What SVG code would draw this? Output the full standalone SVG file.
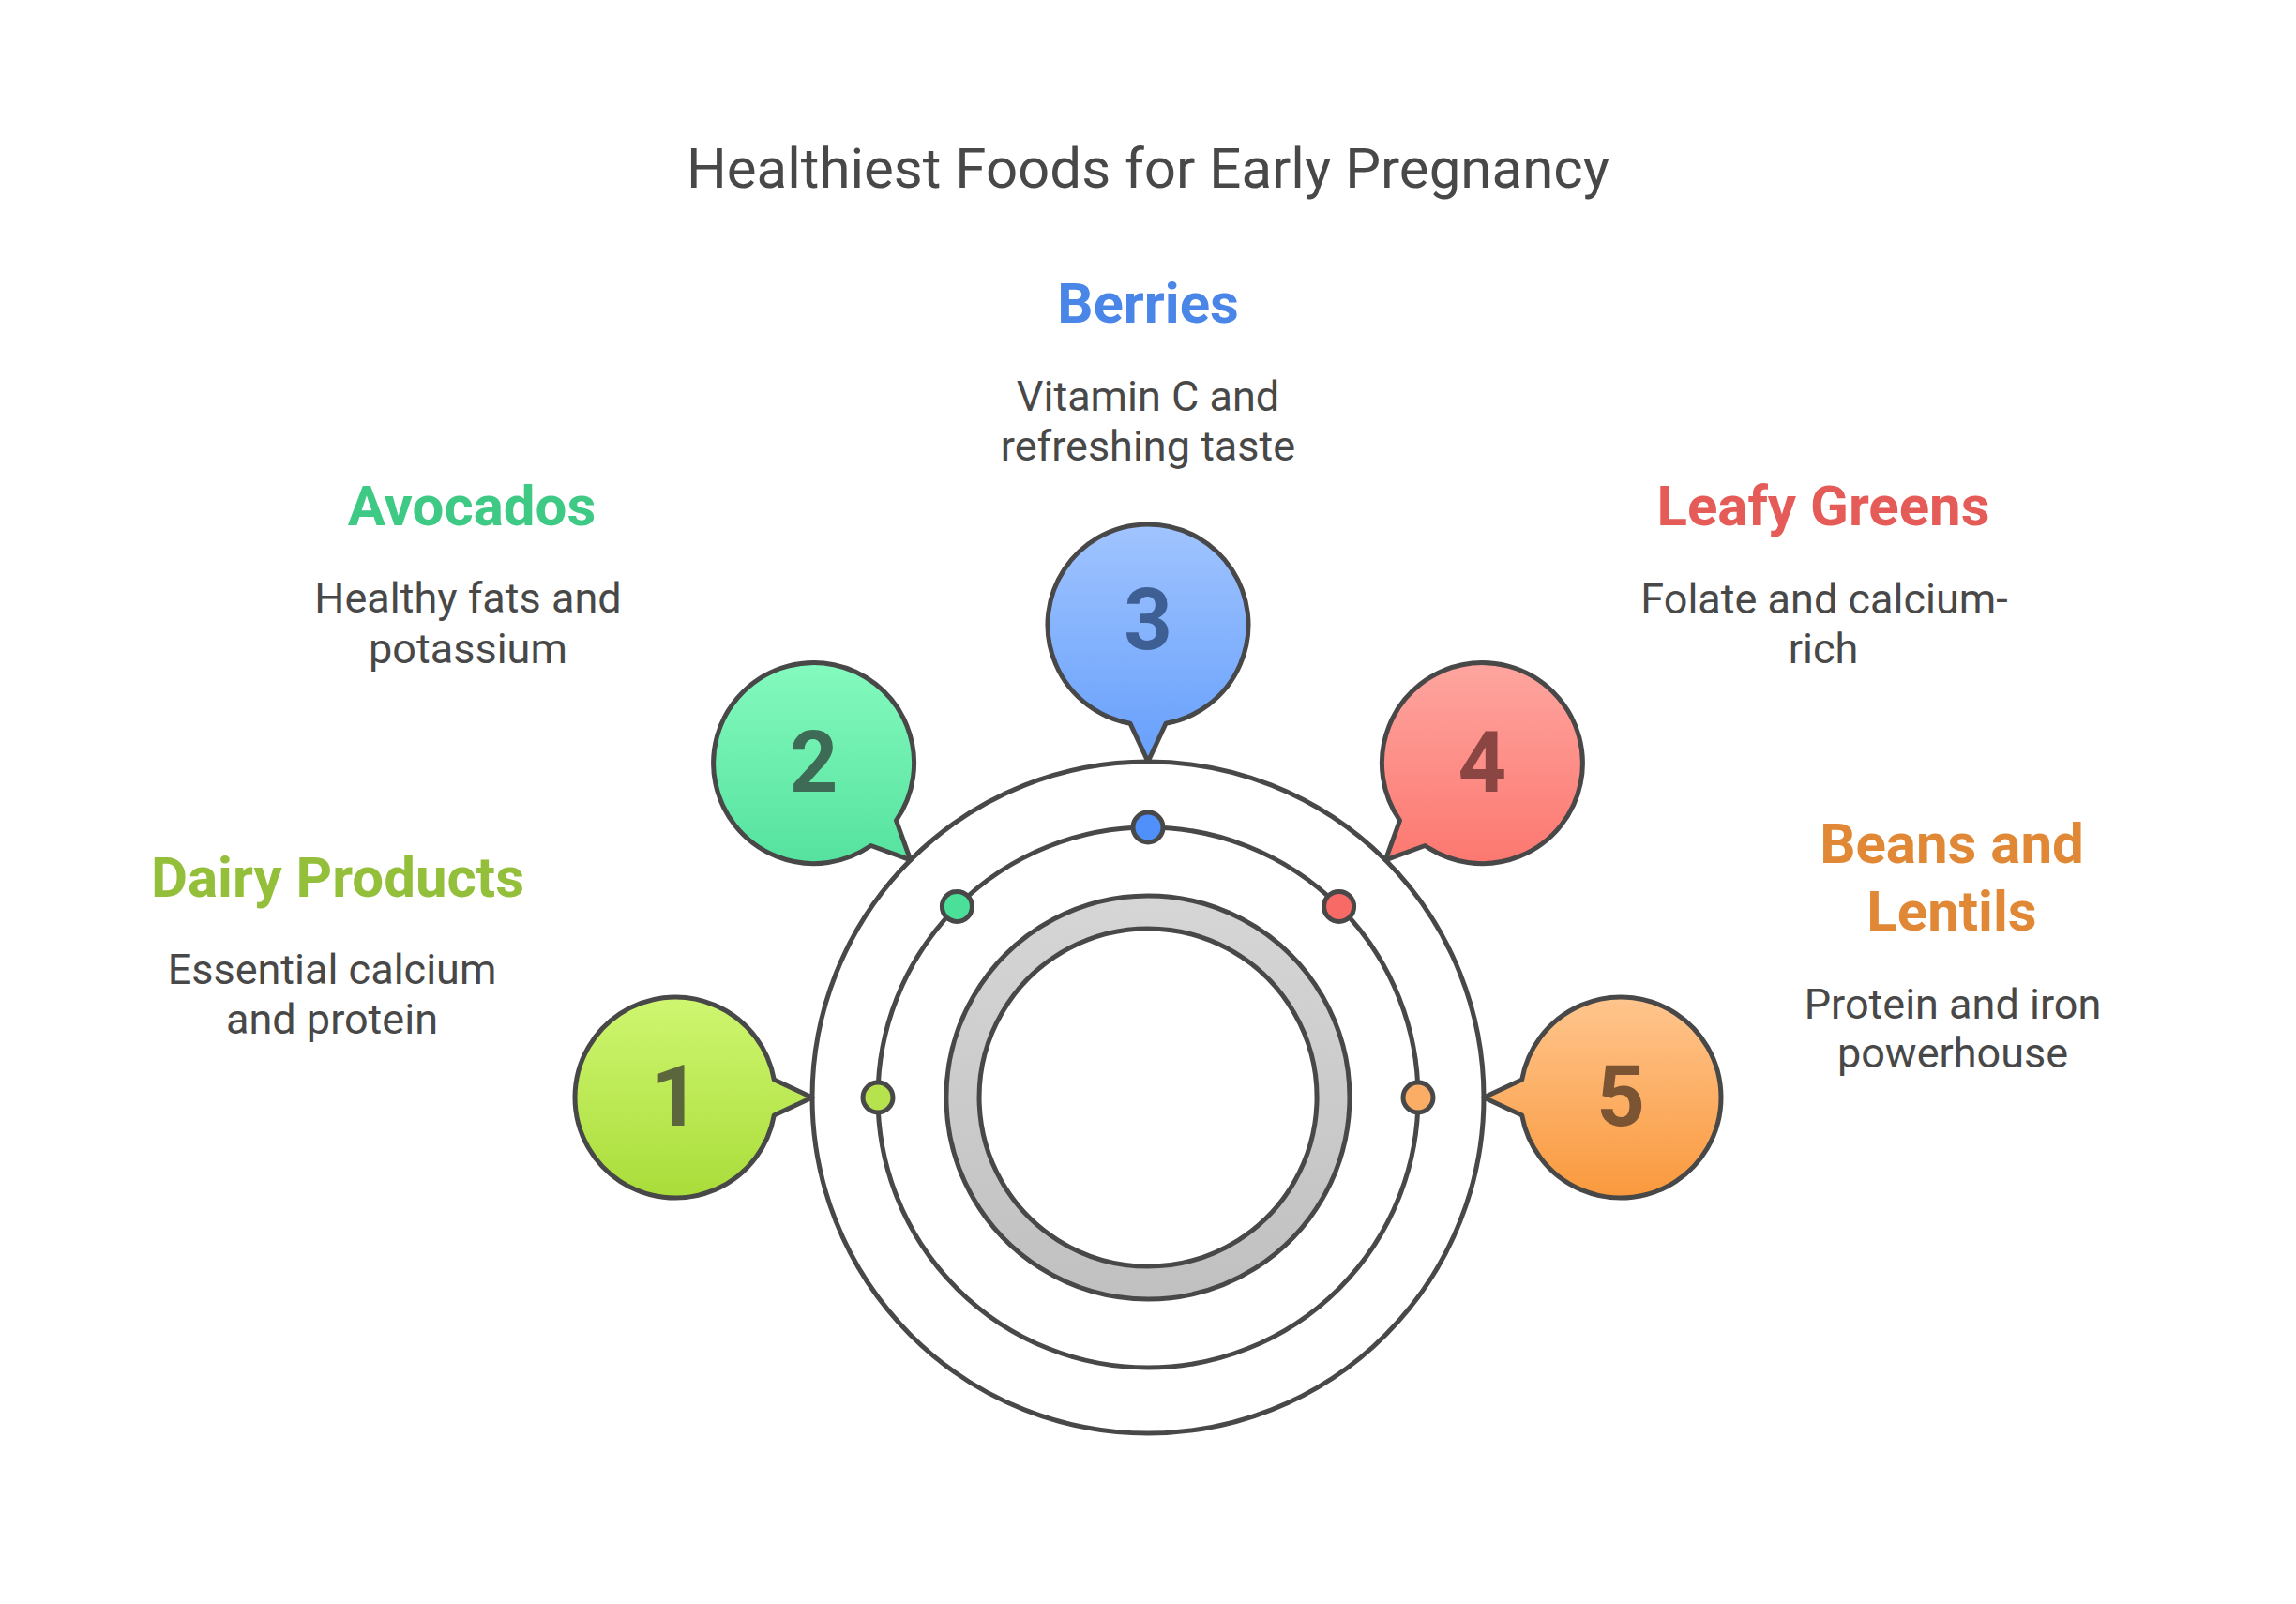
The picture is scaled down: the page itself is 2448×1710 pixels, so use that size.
<svg xmlns="http://www.w3.org/2000/svg" width="2448" height="1710" viewBox="0 0 2448 1710">
<defs>
<style>
.t{font-family:Roboto,"Liberation Sans",sans-serif;fill:#484848;text-anchor:middle}
.title{font-size:60px}
.h{font-size:60px;font-weight:bold}
.d{font-size:45px}
.n{font-size:90px;font-weight:bold}
.ln{fill:none;stroke:#484848;stroke-width:5}
.b{stroke:#484848;stroke-width:5;stroke-linejoin:round}
</style>
<linearGradient id="g1" x1="0" y1="0" x2="0" y2="1"><stop offset="0" stop-color="#cff670"/><stop offset="1" stop-color="#a9dd3a"/></linearGradient>
<linearGradient id="g2" x1="0" y1="0" x2="0" y2="1"><stop offset="0" stop-color="#84fabe"/><stop offset="1" stop-color="#55e29e"/></linearGradient>
<linearGradient id="g3" x1="0" y1="0" x2="0" y2="1"><stop offset="0" stop-color="#a0c4fe"/><stop offset="1" stop-color="#669ffc"/></linearGradient>
<linearGradient id="g4" x1="0" y1="0" x2="0" y2="1"><stop offset="0" stop-color="#fea59f"/><stop offset="1" stop-color="#fc7870"/></linearGradient>
<linearGradient id="g5" x1="0" y1="0" x2="0" y2="1"><stop offset="0" stop-color="#ffc58d"/><stop offset="1" stop-color="#fa993d"/></linearGradient>
<linearGradient id="gr" x1="0" y1="0" x2="0" y2="1"><stop offset="0" stop-color="#d6d6d6"/><stop offset="1" stop-color="#c0c0c0"/></linearGradient>
</defs>
<rect width="2448" height="1710" fill="#ffffff"/>
<text class="t title" x="1224" y="200">Healthiest Foods for Early Pregnancy</text>

<g id="hub">
<circle class="ln" cx="1224" cy="1170" r="358"/>
<circle class="ln" cx="1224" cy="1170" r="288"/>
<path d="M1224 955 A215 215 0 1 1 1223.9 955 Z M1224 990 A180 180 0 1 0 1224.1 990 Z" fill="url(#gr)" fill-rule="evenodd" stroke="#484848" stroke-width="5"/>
</g>

<g id="connectors">
<circle class="b" cx="936" cy="1170" r="16" fill="#b6e24e"/>
<circle class="b" cx="1020.4" cy="966.4" r="16" fill="#4be099"/>
<circle class="b" cx="1224" cy="882" r="16" fill="#4f90fb"/>
<circle class="b" cx="1427.6" cy="966.4" r="16" fill="#f86a65"/>
<circle class="b" cx="1512" cy="1170" r="16" fill="#fbad66"/>
</g>

<g id="node1">
<path class="b" fill="url(#g1)" d="M825.3 1151 A107 107 0 1 0 825.3 1189 L866 1170 Z"/>
<text class="t n" x="720" y="1200" style="fill:#5b663c">1</text>
<text class="t h" x="360" y="956" style="fill:#93bf3b">Dairy Products</text>
<text class="t d" x="354" y="1049">Essential calcium</text>
<text class="t d" x="354" y="1102">and protein</text>
</g>

<g id="node2">
<path class="b" fill="url(#g2)" d="M955.5 874.6 A107 107 0 1 0 928.6 901.5 L970.8 916.8 Z"/>
<text class="t n" x="867.6" y="844" style="fill:#3e6b55">2</text>
<text class="t h" x="503" y="560" style="fill:#3ec985">Avocados</text>
<text class="t d" x="499" y="653">Healthy fats and</text>
<text class="t d" x="499" y="707">potassium</text>
</g>

<g id="node3">
<path class="b" fill="url(#g3)" d="M1243 771.3 A107 107 0 1 0 1205 771.3 L1224 812 Z"/>
<text class="t n" x="1224" y="692" style="fill:#3e5f93">3</text>
<text class="t h" x="1224" y="344" style="fill:#4a86e8">Berries</text>
<text class="t d" x="1224" y="438">Vitamin C and</text>
<text class="t d" x="1224" y="491">refreshing taste</text>
</g>

<g id="node4">
<path class="b" fill="url(#g4)" d="M1519.4 901.5 A107 107 0 1 0 1492.5 874.6 L1477.2 916.8 Z"/>
<text class="t n" x="1580.4" y="844" style="fill:#8b4542">4</text>
<text class="t h" x="1944" y="560" style="fill:#e55b57">Leafy Greens</text>
<text class="t d" x="1945" y="654">Folate and calcium-</text>
<text class="t d" x="1944" y="707">rich</text>
</g>

<g id="node5">
<path class="b" fill="url(#g5)" d="M1622.7 1189 A107 107 0 1 0 1622.7 1151 L1582 1170 Z"/>
<text class="t n" x="1728" y="1200" style="fill:#7b5434">5</text>
<text class="t h" x="2081" y="920" style="fill:#e08835">Beans and</text>
<text class="t h" x="2081" y="992" style="fill:#e08835">Lentils</text>
<text class="t d" x="2082" y="1086">Protein and iron</text>
<text class="t d" x="2082" y="1138">powerhouse</text>
</g>
</svg>
